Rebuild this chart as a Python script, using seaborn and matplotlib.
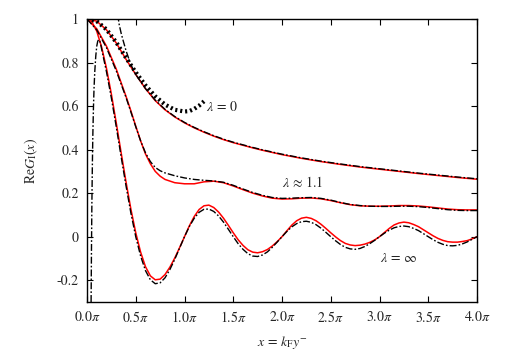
import numpy as np
import matplotlib
matplotlib.use("Agg")
import matplotlib.pyplot as plt
import seaborn as sns

# x in units of pi
x_fine = [round(0.05 * i, 2) for i in range(81)]

# lambda = infinity, exact (red)
red_inf = [1.000, 0.987, 0.944, 0.871, 0.773, 0.655, 0.523, 0.386, 0.252, 0.127,
           0.018, -0.071, -0.138, -0.180, -0.198, -0.195, -0.174, -0.140, -0.098, -0.050,
           0.000, 0.050, 0.093, 0.125, 0.142, 0.145, 0.134, 0.113, 0.085, 0.052,
           0.018, -0.014, -0.040, -0.060, -0.071, -0.074, -0.069, -0.059, -0.043, -0.023,
           0.000, 0.027, 0.053, 0.073, 0.085, 0.089, 0.084, 0.073, 0.057, 0.038,
           0.018, -0.001, -0.018, -0.031, -0.038, -0.041, -0.039, -0.034, -0.026, -0.015,
           0.000, 0.019, 0.038, 0.054, 0.063, 0.067, 0.064, 0.056, 0.046, 0.032,
           0.018, 0.004, -0.008, -0.017, -0.023, -0.025, -0.025, -0.022, -0.018, -0.010,
           0.000]

# lambda = infinity, approximation (black dash-dot)
x_blk_inf = [0.042, 0.046, 0.050, 0.055, 0.060, 0.066, 0.072, 0.080, 0.090, 0.100,
             0.110, 0.120, 0.130, 0.140, 0.150] + x_fine[4:]
blk_inf = [-0.30, -0.05, 0.15, 0.33, 0.47, 0.59, 0.68, 0.76, 0.83, 0.875,
           0.898, 0.905, 0.900, 0.885, 0.862,
           0.757, 0.637, 0.505, 0.368, 0.234, 0.109,
           0.000, -0.089, -0.156, -0.198, -0.216, -0.212, -0.189, -0.151, -0.104, -0.052,
           0.000, 0.047, 0.085, 0.112, 0.126, 0.127, 0.116, 0.095, 0.067, 0.034,
           0.000, -0.032, -0.058, -0.078, -0.089, -0.091, -0.084, -0.070, -0.049, -0.025,
           0.000, 0.024, 0.045, 0.060, 0.069, 0.071, 0.066, 0.055, 0.039, 0.020,
           0.000, -0.019, -0.036, -0.049, -0.056, -0.058, -0.054, -0.045, -0.032, -0.017,
           0.000, 0.016, 0.030, 0.041, 0.047, 0.049, 0.046, 0.038, 0.028, 0.014,
           0.000, -0.014, -0.026, -0.035, -0.041, -0.042, -0.040, -0.033, -0.024, -0.012,
           0.000]

# lambda ~ 1.1
x_mid = [0.0, 0.1, 0.2, 0.3, 0.4, 0.45, 0.5, 0.55, 0.6, 0.65, 0.7, 0.75, 0.8, 0.9,
         1.0, 1.1, 1.2, 1.3, 1.4, 1.5, 1.6, 1.7, 1.8, 1.9, 2.0, 2.1, 2.2, 2.3, 2.4,
         2.5, 2.6, 2.7, 2.8, 2.9, 3.0, 3.1, 3.2, 3.3, 3.4, 3.5, 3.6, 3.7, 3.8, 3.9, 4.0]
red_mid = [1.0, 0.955, 0.875, 0.77, 0.645, 0.578, 0.508, 0.44, 0.38, 0.335, 0.30,
           0.278, 0.263, 0.248,
           0.243, 0.243, 0.252, 0.255, 0.248, 0.233, 0.216, 0.200, 0.187, 0.177,
           0.173, 0.174, 0.177, 0.178, 0.174, 0.166, 0.156, 0.147, 0.142, 0.140,
           0.140, 0.141, 0.143, 0.143, 0.141, 0.137, 0.132, 0.127, 0.124, 0.123,
           0.123]
blk_mid = [1.0, 0.95, 0.868, 0.762, 0.64, 0.573, 0.505, 0.44, 0.385, 0.345, 0.318,
           0.303, 0.293, 0.28,
           0.27, 0.263, 0.259, 0.256, 0.25, 0.236, 0.219, 0.203, 0.19, 0.18,
           0.176, 0.177, 0.179, 0.18, 0.176, 0.168, 0.157, 0.148, 0.143, 0.140,
           0.139, 0.139, 0.140, 0.140, 0.138, 0.134, 0.129, 0.124, 0.121, 0.120,
           0.120]

# lambda = 0
x_zero = [0.0, 0.1, 0.2, 0.3, 0.4, 0.5, 0.6, 0.7, 0.8, 0.9, 1.0, 1.1, 1.2, 1.3, 1.4,
          1.5, 1.6, 1.7, 1.8, 1.9, 2.0, 2.2, 2.4, 2.6, 2.8, 3.0, 3.2, 3.4, 3.6, 3.8, 4.0]
red_zero = [1.0, 0.99, 0.95, 0.89, 0.815, 0.745, 0.68, 0.625, 0.583, 0.55, 0.523,
            0.50, 0.48, 0.462, 0.446, 0.432, 0.42, 0.408, 0.397, 0.387, 0.377,
            0.36, 0.345, 0.332, 0.32, 0.31, 0.30, 0.29, 0.281, 0.272, 0.264]
x_blk_zero = [0.315, 0.33, 0.35, 0.37, 0.40, 0.45] + x_zero[5:]
blk_zero = [1.02, 0.975, 0.935, 0.902, 0.855, 0.79, 0.745, 0.68, 0.627, 0.585,
            0.552, 0.525, 0.502, 0.482, 0.464, 0.448, 0.434, 0.422, 0.41, 0.399,
            0.389, 0.379, 0.362, 0.347, 0.334, 0.322, 0.312, 0.302, 0.292, 0.283,
            0.274, 0.266]
x_dot = [0.0, 0.1, 0.2, 0.3, 0.4, 0.5, 0.6, 0.7, 0.8, 0.9, 1.0, 1.05, 1.1, 1.15, 1.2]
dot_zero = [1.0, 0.99, 0.952, 0.893, 0.822, 0.755, 0.695, 0.645, 0.607, 0.583,
            0.575, 0.577, 0.587, 0.602, 0.622]

xtick_vals = [0.0, 0.5, 1.0, 1.5, 2.0, 2.5, 3.0, 3.5, 4.0]
xtick_labels = [r"$0.0\pi$", r"$0.5\pi$", r"$1.0\pi$", r"$1.5\pi$", r"$2.0\pi$",
                r"$2.5\pi$", r"$3.0\pi$", r"$3.5\pi$", r"$4.0\pi$"]
ytick_vals = [-0.2, 0.0, 0.2, 0.4, 0.6, 0.8, 1.0]
ytick_labels = ["-0.2", "0", "0.2", "0.4", "0.6", "0.8", "1"]

sns.set_style("ticks")
plt.rcParams["font.family"] = ["STIXGeneral", "DejaVu Serif"]
plt.rcParams["mathtext.fontset"] = "stix"
plt.rcParams["xtick.direction"] = "in"
plt.rcParams["ytick.direction"] = "in"

fig = plt.figure(figsize=(5.14, 3.53), dpi=100)
ax = fig.add_axes([87 / 514, 1 - 302 / 353, 390 / 514, 283 / 353])

dashdot = (0, (5, 1.5, 1.2, 1.5))
kw = dict(estimator=None, sort=False, ax=ax)

sns.lineplot(x=x_fine, y=red_inf, color="red", linewidth=1.1, **kw)
sns.lineplot(x=x_mid, y=red_mid, color="red", linewidth=1.1, **kw)
sns.lineplot(x=x_zero, y=red_zero, color="red", linewidth=1.1, **kw)
sns.lineplot(x=x_blk_inf, y=blk_inf, color="black", linewidth=1.0, linestyle=dashdot, **kw)
sns.lineplot(x=x_mid, y=blk_mid, color="black", linewidth=1.0, linestyle=dashdot, **kw)
sns.lineplot(x=x_blk_zero, y=blk_zero, color="black", linewidth=1.0, linestyle=dashdot, **kw)
sns.lineplot(x=x_dot, y=dot_zero, color="black", linewidth=3.0, linestyle=(0, (0.5, 0.7)), **kw)

ax.text(1.22, 0.596, r"$\lambda\, =\, 0$", fontsize=10, va="center", ha="left")
ax.text(2.0, 0.246, r"$\lambda\, \approx\, 1.1$", fontsize=10, va="center", ha="left")
ax.text(3.0, -0.098, r"$\lambda\, =\, \infty$", fontsize=10, va="center", ha="left")

ax.set_xlim(0, 4)
ax.set_ylim(-0.3, 1.0)
ax.set_xticks(xtick_vals)
ax.set_xticklabels(xtick_labels)
ax.set_yticks(ytick_vals)
ax.set_yticklabels(ytick_labels)
ax.tick_params(axis="both", which="both", direction="in", top=True, right=True,
               length=4, width=0.8, labelsize=10, pad=6, color="black")
for sp in ax.spines.values():
    sp.set_linewidth(1.0)
    sp.set_color("black")

ax.set_xlabel(r"$x\, =\, k_{\mathrm{F}}y^{-}$", fontsize=10, labelpad=6)
ax.set_ylabel(r"$\mathrm{Re}G_{\mathrm{I}}(x)$", fontsize=10, labelpad=12)

fig.savefig("out.png", dpi=100)
